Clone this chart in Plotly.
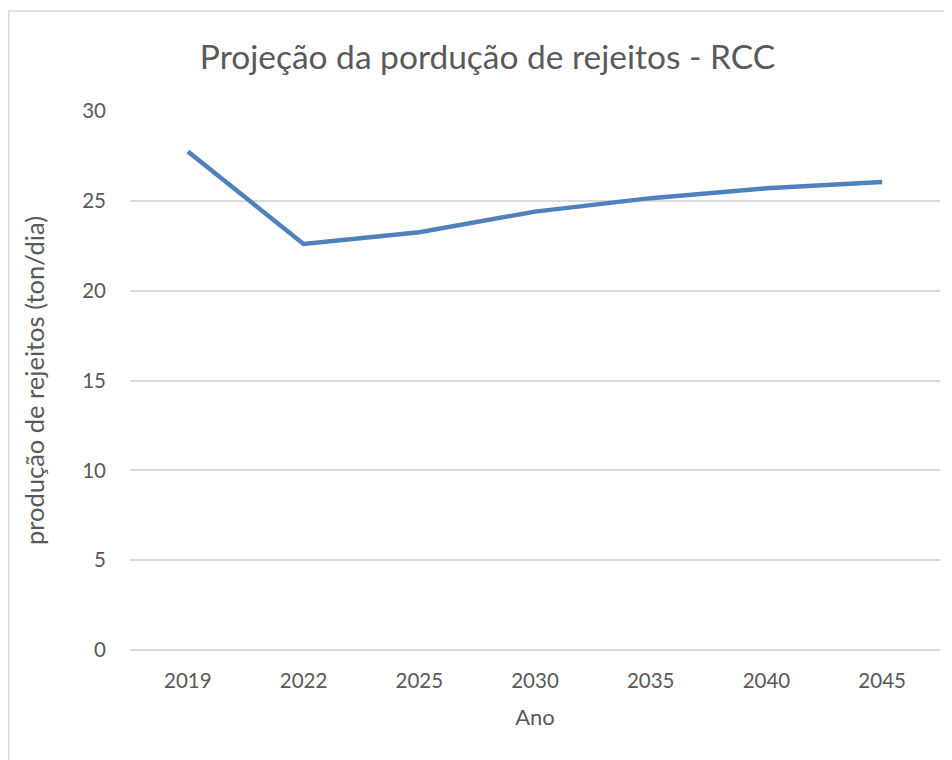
import plotly.graph_objects as go

# dados do gráfico
anos = ["2019", "2022", "2025", "2030", "2035", "2040", "2045"]
producao = [27.75, 22.6, 23.25, 24.4, 25.15, 25.7, 26.05]
y_ticks = [0, 5, 10, 15, 20, 25, 30]

COR_LINHA = "#4F81BD"
COR_TEXTO = "#595959"
COR_GRADE = "#D9D9D9"
FONTE = "Lato"

fig = go.Figure()

fig.add_trace(go.Scatter(
    x=anos,
    y=producao,
    mode="lines",
    line=dict(color=COR_LINHA, width=4.5),
    showlegend=False,
))

fig.update_layout(
    width=952,
    height=760,
    paper_bgcolor="white",
    plot_bgcolor="white",
    margin=dict(l=122, r=20, t=103, b=118, autoexpand=False),
    font=dict(family=FONTE, color=COR_TEXTO),
    title=dict(
        text="Projeção da pordução de rejeitos - RCC",
        x=0.5037, xanchor="center",
        y=0.9355, yanchor="middle",
        font=dict(size=33.5, color=COR_TEXTO),
    ),
    # borda da área do gráfico (estilo Excel)
    shapes=[dict(
        type="rect", xref="paper", yref="paper",
        x0=-0.1497, x1=1.035, y0=-0.25, y1=1.1855,
        line=dict(color=COR_GRADE, width=1.5),
    )],
)

fig.update_xaxes(
    type="category",
    range=[-0.5, 6.5],
    showgrid=False,
    showline=False,
    ticks="",
    ticklabelstandoff=16,
    tickfont=dict(size=20.5, color=COR_TEXTO),
    title=dict(text="Ano", font=dict(size=22, color=COR_TEXTO), standoff=19),
)

fig.update_yaxes(
    range=[0, 30],
    tickvals=y_ticks,
    showgrid=True,
    gridcolor=COR_GRADE,
    gridwidth=1.5,
    zeroline=True,
    zerolinecolor=COR_GRADE,
    zerolinewidth=1.5,
    showline=False,
    ticks="",
    ticklabelstandoff=23,
    tickfont=dict(size=20.5, color=COR_TEXTO),
    title=dict(text="produção de rejeitos (ton/dia)", font=dict(size=25.5, color=COR_TEXTO), standoff=30),
)

fig.write_html("out.html")
